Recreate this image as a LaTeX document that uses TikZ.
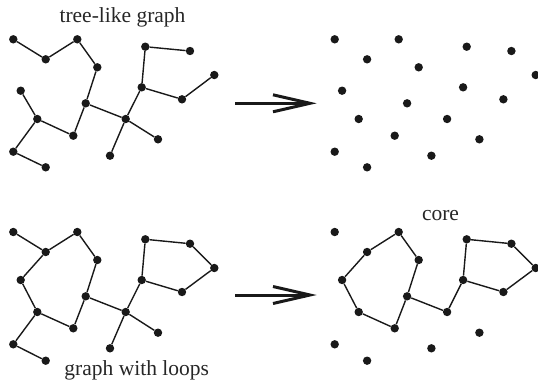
\documentclass[tikz,border=0pt]{standalone}
\usepackage{fontspec}
\setmainfont{Liberation Serif}
\usetikzlibrary{arrows.meta}
\tikzset{
  dot/.style={circle,fill=black!90,inner sep=0pt,minimum size=8.4pt},
  edge/.style={line width=1.4pt,black!90},
  bigarrow/.style={line width=3pt,black!90,-{Straight Barb[length=37pt,width=17pt,line width=3pt]}},
  caption/.style={anchor=base,inner sep=0pt,font=\fontsize{21.5}{25}\selectfont,text=black!85}
}
\def\toppts{1/13.3/39.3,2/45.7/59.3,3/77.3/39.3,4/97.3/67.3,5/85.7/103.3,6/73.3/135.7,7/37.3/119,8/20.7/90.7,9/13.3/151.7,10/45.7/167.3,11/125.7/119,12/110/155.7,13/158/139.3,14/141.7/87.3,15/145.3/46.7,16/190/51,17/182/99.3,18/214.3/75}
\def\botpts{1/13.3/232,2/45.7/252,3/77.3/232,4/97.3/260,5/85.7/296.3,6/73.3/328.3,7/37.3/312,8/20.7/280,9/13.3/344.3,10/45.7/360.7,11/125.7/312,12/110/348.3,13/158/332.7,14/141.7/280,15/145.3/239.3,16/190/243.7,17/182/292,18/214.3/268}
\begin{document}
\begin{tikzpicture}[x=1pt,y=-1pt]
\useasboundingbox (0,0) rectangle (538,381);
% top left: tree-like graph
\foreach \n/\x/\y in \toppts {\node[dot] (t\n) at (\x,\y) {};}
\foreach \a/\b in {1/2,2/3,3/4,4/5,5/6,6/7,7/8,7/9,9/10,5/11,11/12,11/13,11/14,14/15,15/16,14/17,17/18}
  {\draw[edge] (t\a) -- (t\b);}
% top right: isolated dots
\begin{scope}[xshift=321.4pt]
\foreach \n/\x/\y in \toppts {\node[dot] (u\n) at (\x,\y) {};}
\end{scope}
% bottom left: graph with loops
\foreach \n/\x/\y in \botpts {\node[dot] (l\n) at (\x,\y) {};}
\foreach \a/\b in {1/2,2/3,3/4,4/5,5/6,6/7,7/8,8/2,7/9,9/10,5/11,11/12,11/13,11/14,14/15,15/16,16/18,18/17,17/14}
  {\draw[edge] (l\a) -- (l\b);}
% bottom right: core
\begin{scope}[xshift=321.4pt]
\foreach \n/\x/\y in \botpts {\node[dot] (r\n) at (\x,\y) {};}
\end{scope}
\foreach \a/\b in {2/3,3/4,4/5,5/6,6/7,7/8,8/2,5/11,11/14,14/15,15/16,16/18,18/17,17/14}
  {\draw[edge] (r\a) -- (r\b);}
% arrows
\coordinate (a1s) at (235,103.3);
\coordinate (a1e) at (316.7,103.3);
\coordinate (a2s) at (235,295);
\coordinate (a2e) at (316.7,295);
\draw[bigarrow] (a1s) -- (a1e);
\draw[bigarrow] (a2s) -- (a2e);
% captions
\node[caption] (cap1) at (122.5,22.7) {tree-like graph};
\node[caption] (cap2) at (440.5,220.7) {core};
\node[caption] (cap3) at (136.7,375) {graph with loops};
\end{tikzpicture}
\end{document}
